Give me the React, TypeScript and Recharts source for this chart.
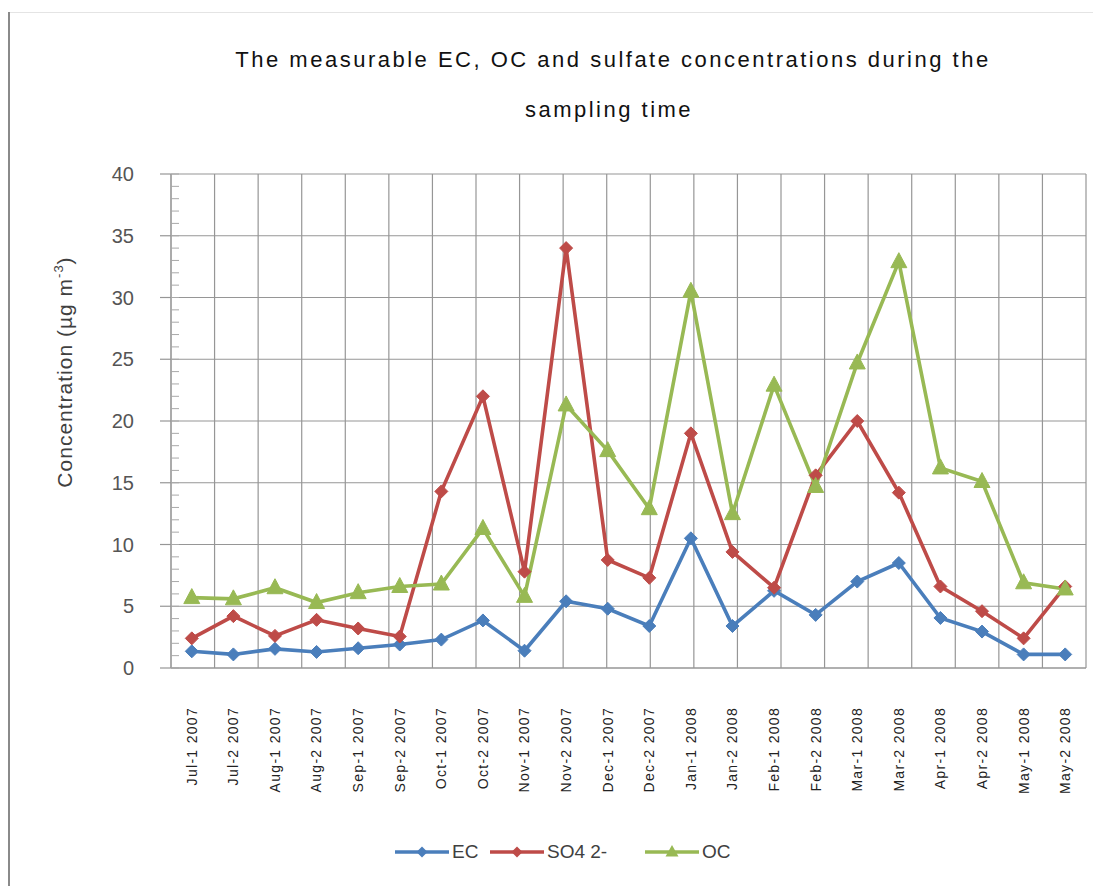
import React from 'react';
import { LineChart, Line, XAxis, YAxis, CartesianGrid, Legend, Label } from 'recharts';

const categories = [
  'Jul-1 2007', 'Jul-2 2007', 'Aug-1 2007', 'Aug-2 2007', 'Sep-1 2007', 'Sep-2 2007',
  'Oct-1 2007', 'Oct-2 2007', 'Nov-1 2007', 'Nov-2 2007', 'Dec-1 2007', 'Dec-2 2007',
  'Jan-1 2008', 'Jan-2 2008', 'Feb-1 2008', 'Feb-2 2008', 'Mar-1 2008', 'Mar-2 2008',
  'Apr-1 2008', 'Apr-2 2008', 'May-1 2008', 'May-2 2008',
];
const ecValues = [1.35, 1.1, 1.55, 1.3, 1.6, 1.9, 2.3, 3.85, 1.4, 5.4, 4.8, 3.4, 10.5, 3.4, 6.25, 4.3, 7.0, 8.5, 4.05, 2.95, 1.1, 1.1];
const so4Values = [2.4, 4.2, 2.6, 3.9, 3.2, 2.55, 14.3, 22.0, 7.8, 34.0, 8.75, 7.3, 19.0, 9.4, 6.5, 15.6, 20.0, 14.2, 6.6, 4.6, 2.4, 6.6];
const ocValues = [5.7, 5.6, 6.5, 5.3, 6.1, 6.6, 6.8, 11.3, 5.8, 21.3, 17.6, 12.9, 30.5, 12.5, 22.9, 14.7, 24.7, 32.9, 16.2, 15.1, 6.9, 6.4];
const yTicks = [0, 5, 10, 15, 20, 25, 30, 35, 40];
const minorTicks = [0, 1, 2, 3, 4, 5, 6, 7, 8, 9, 10, 11, 12, 13, 14, 15, 16, 17, 18, 19, 20, 21, 22, 23, 24, 25, 26, 27, 28, 29, 30, 31, 32, 33, 34, 35, 36, 37, 38, 39, 40];
const gridTicks = [0, 1, 2, 3, 4, 5, 6, 7, 8, 9, 10, 11, 12, 13, 14, 15, 16, 17, 18, 19, 20, 21, 22];
const seriesNames = ['EC', 'SO4 2-', 'OC'];
const seriesColors = ['#4a7ebb', '#be4b48', '#98b954'];
const titleLines = ['The measurable EC, OC and sulfate concentrations during the', 'sampling time'];

const data = categories.map((c, i) => ({
  cat: c,
  EC: ecValues[i],
  SO4: so4Values[i],
  OC: ocValues[i],
}));

const FONT = '"Liberation Sans", Arial, sans-serif';
const GRID = '#969696';
const Y_TICK_SIZE = 11;
const Y_TICK_MARGIN = 26;
const Y_MAX = 40;

const makeDiamond = (color: string) => (props: any) => {
  const { cx, cy, index } = props;
  if (cx == null || cy == null) return <g key={`d${index}`} />;
  const r = 6.5;
  return (
    <path
      key={`d${index}`}
      d={`M${cx},${cy - r}L${cx + r},${cy}L${cx},${cy + r}L${cx - r},${cy}Z`}
      fill={color}
      stroke={color}
      strokeWidth={1}
    />
  );
};

const makeTriangle = (color: string) => (props: any) => {
  const { cx, cy, index } = props;
  if (cx == null || cy == null) return <g key={`t${index}`} />;
  return (
    <path
      key={`t${index}`}
      d={`M${cx},${cy - 9}L${cx + 8},${cy + 6}L${cx - 8},${cy + 6}Z`}
      fill={color}
      stroke={color}
      strokeWidth={1}
    />
  );
};

const XTick = (props: any) => {
  const { x, y, payload } = props;
  return (
    <text
      x={x}
      y={y}
      transform={`rotate(-90 ${x} ${y})`}
      textAnchor="end"
      dy="0.35em"
      fontSize={14}
      letterSpacing={1.3}
      fill="#222"
      fontFamily={FONT}
    >
      {payload.value}
    </text>
  );
};

const YTick = (props: any) => {
  const { x, y, payload } = props;
  const v = payload.value;
  const axisX = x + Y_TICK_SIZE + Y_TICK_MARGIN;
  const major = v % 5 === 0;
  return (
    <g>
      <line x1={axisX} y1={y} x2={axisX + 8} y2={y} stroke="#a8a8a8" strokeWidth={1} />
      {major && (
        <>
          <line x1={axisX - Y_TICK_SIZE} y1={y} x2={axisX} y2={y} stroke={GRID} strokeWidth={1.2} />
          <text x={x} y={y} textAnchor="end" dy="0.35em" fontSize={20} fill="#555" fontFamily={FONT}>
            {v}
          </text>
        </>
      )}
    </g>
  );
};

const YLabel = (props: any) => {
  const { viewBox } = props;
  const cx = viewBox.x + 57;
  const cy = viewBox.y + viewBox.height / 2 - 49;
  return (
    <text
      x={cx}
      y={cy}
      transform={`rotate(-90 ${cx} ${cy})`}
      textAnchor="middle"
      dy="0.35em"
      fontSize={21}
      letterSpacing={1}
      fill="#404040"
      fontFamily={FONT}
    >
      Concentration (µg m
      <tspan fontSize={13} dy={-9}>-3</tspan>
      <tspan dy={9}>)</tspan>
    </text>
  );
};

const LegendContent = (props: any) => {
  const { payload } = props;
  const lefts = [387, 482, 637];
  const items = seriesNames.map((n) => (payload || []).find((p: any) => p.value === n)).filter(Boolean);
  return (
    <div style={{ position: 'relative', height: 24, width: '100%' }}>
      {items.map((p: any, i: number) => {
        const color = p.color;
        const isTri = p.value === 'OC';
        return (
          <div
            key={p.value}
            style={{ position: 'absolute', left: lefts[i], top: 0, height: 24, display: 'flex', alignItems: 'center' }}
          >
            <svg width={54} height={24} style={{ display: 'block' }}>
              <line x1={0} y1={12} x2={54} y2={12} stroke={color} strokeWidth={3.5} />
              {isTri ? (
                <path d="M27,5L33.5,16.5L20.5,16.5Z" fill={color} />
              ) : (
                <path d="M27,6.5L32.5,12L27,17.5L21.5,12Z" fill={color} />
              )}
            </svg>
            <span style={{ marginLeft: 3, fontFamily: FONT, fontSize: 19, color: '#404040', lineHeight: '24px' }}>
              {p.value}
            </span>
          </div>
        );
      })}
    </div>
  );
};

const horizontalGen = ({ yAxis, offset }: any) =>
  yTicks.map((t) =>
    yAxis && typeof yAxis.scale === 'function'
      ? yAxis.scale(t)
      : offset.top + offset.height * (1 - t / Y_MAX)
  );

export default function App() {
  return (
    <div style={{ position: 'relative', width: 1093, height: 878, background: '#fff' }}>
      <div style={{ position: 'absolute', left: -1, top: 4, width: 3, height: 874, background: '#8a8a8a' }} />
      <div style={{ position: 'absolute', left: 2, top: 4, right: 0, height: 1, background: '#e4e4e4' }} />
      <svg width={1093} height={130} style={{ position: 'absolute', left: 0, top: 0 }}>
        <text x={605} y={59} textAnchor="middle" fontSize={22} letterSpacing={2.5} fill="#111" fontFamily={FONT}>
          {titleLines[0]}
        </text>
        <text x={601} y={109} textAnchor="middle" fontSize={22} letterSpacing={2.5} fill="#111" fontFamily={FONT}>
          {titleLines[1]}
        </text>
      </svg>
      <div style={{ position: 'absolute', left: 0, top: 0 }}>
        <LineChart
          width={1093}
          height={870}
          data={data}
          margin={{ top: 166, right: 15, bottom: 0, left: 0 }}
        >
          <XAxis xAxisId="grid" type="number" domain={[0, 22]} ticks={gridTicks} hide />
          <CartesianGrid
            xAxisId="grid"
            yAxisId="left"
            stroke={GRID}
            strokeWidth={1.2}
            horizontalCoordinatesGenerator={horizontalGen}
          />
          <XAxis
            xAxisId="cat"
            dataKey="cat"
            type="category"
            scale="band"
            interval={0}
            height={210}
            tickLine={false}
            tickSize={6}
            tickMargin={33}
            axisLine={{ stroke: GRID }}
            tick={<XTick />}
          />
          <YAxis
            yAxisId="left"
            type="number"
            domain={[0, Y_MAX]}
            ticks={minorTicks}
            interval={0}
            width={163}
            tickSize={Y_TICK_SIZE}
            tickMargin={Y_TICK_MARGIN}
            axisLine={{ stroke: GRID }}
            tickLine={false}
            tick={<YTick />}
          >
            <Label content={<YLabel />} />
          </YAxis>
          <Line
            xAxisId="cat"
            yAxisId="left"
            dataKey="EC"
            name={seriesNames[0]}
            stroke={seriesColors[0]}
            strokeWidth={3.6}
            dot={makeDiamond(seriesColors[0])}
            isAnimationActive={false}
          />
          <Line
            xAxisId="cat"
            yAxisId="left"
            dataKey="SO4"
            name={seriesNames[1]}
            stroke={seriesColors[1]}
            strokeWidth={3.6}
            dot={makeDiamond(seriesColors[1])}
            isAnimationActive={false}
          />
          <Line
            xAxisId="cat"
            yAxisId="left"
            dataKey="OC"
            name={seriesNames[2]}
            stroke={seriesColors[2]}
            strokeWidth={3.6}
            dot={makeTriangle(seriesColors[2])}
            isAnimationActive={false}
          />
          <Legend
            layout="horizontal"
            verticalAlign="middle"
            align="center"
            wrapperStyle={{ top: 832, left: 0, width: 1093, height: 24 }}
            content={<LegendContent />}
          />
        </LineChart>
      </div>
    </div>
  );
}
